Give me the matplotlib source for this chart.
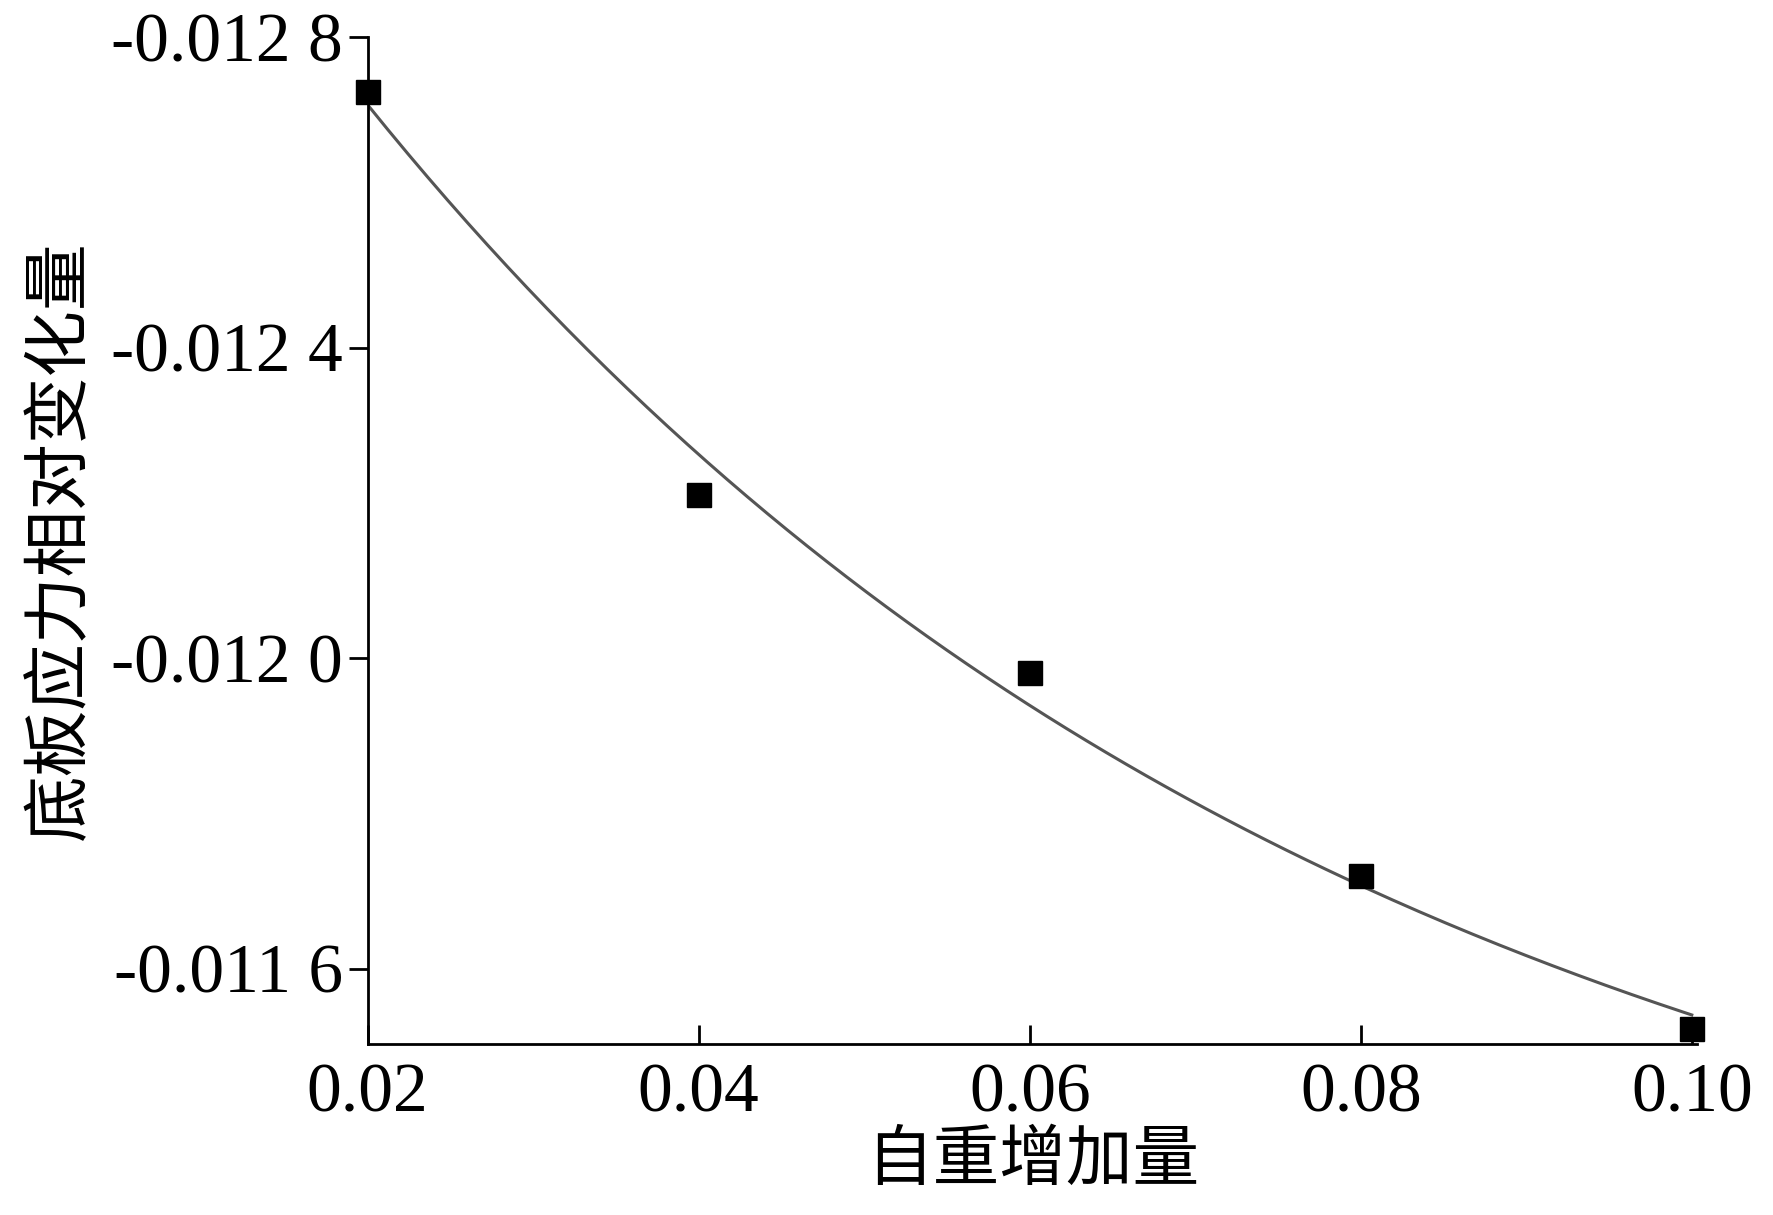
import numpy as np
import matplotlib.pyplot as plt
from matplotlib.ticker import FuncFormatter

# data
x_data = [0.02, 0.04, 0.06, 0.08, 0.10]
y_data = [-0.012729, -0.012210, -0.011981, -0.011720, -0.011522]

x_ticks = [0.02, 0.04, 0.06, 0.08, 0.10]
y_ticks = [-0.0128, -0.0124, -0.0120, -0.0116]

# exponential fit y = a + b*exp(-x/t), t by grid search
xd = np.array(x_data)
yd = np.array(y_data)
best = None
for t in np.linspace(0.01, 0.3, 600):
    M = np.column_stack([np.ones_like(xd), np.exp(-xd / t)])
    coef, res, _, _ = np.linalg.lstsq(M, yd, rcond=None)
    err = np.sum((M @ coef - yd) ** 2)
    if best is None or err < best[0]:
        best = (err, t, coef)
_, t, coef = best
xf = np.linspace(0.02, 0.10, 200)
yf = coef[0] + coef[1] * np.exp(-xf / t)

fig = plt.figure(figsize=(17.73, 12.15), dpi=100)
ax = fig.add_axes([0.2074, 0.1407, 0.7496, 0.8287])
ax.plot(xf, yf, color='#555555', lw=2.2)
ax.plot(x_data, y_data, 's', color='black', ms=17, clip_on=False)

ax.set_xlim(0.02, 0.1003)
ax.set_ylim(-0.011503, -0.0128)
ax.set_xticks(x_ticks)
ax.set_yticks(y_ticks)
ax.xaxis.set_major_formatter(FuncFormatter(lambda v, p: f"{v:.2f}"))

def yfmt(v, p):
    s = f"{v:.4f}"
    return s[:-1] + " " + s[-1]
ax.yaxis.set_major_formatter(FuncFormatter(yfmt))

for s in ['top', 'right']:
    ax.spines[s].set_visible(False)
for s in ['left', 'bottom']:
    ax.spines[s].set_linewidth(2)
ax.tick_params(axis='x', direction='in', length=14, width=2, pad=14)
ax.tick_params(axis='y', direction='out', length=14, width=2, pad=4)
for lab in ax.get_xticklabels() + ax.get_yticklabels():
    lab.set_family('Liberation Serif')
    lab.set_fontsize(50)

ax.set_xlabel('自重增加量', family=['Noto Sans CJK SC'], fontsize=48, labelpad=0)
ax.set_ylabel('底板应力相对变化量', family=['Noto Sans CJK SC'], fontsize=48, labelpad=12)

fig.savefig('out.png', dpi=100)
